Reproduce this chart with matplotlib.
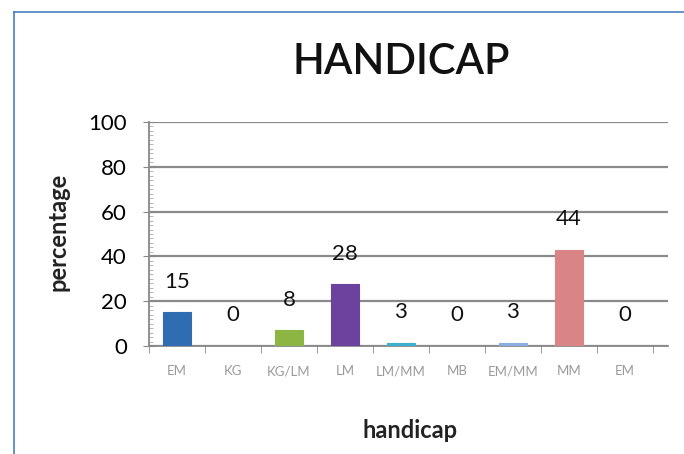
import numpy as np
import matplotlib
matplotlib.use('Agg')
import matplotlib.pyplot as plt
from matplotlib.ticker import MultipleLocator
from matplotlib.lines import Line2D

plt.rcParams['font.family'] = ['Lato', 'DejaVu Sans']

# dados do gráfico
categorias = ['EM', 'KG', 'KG/LM', 'LM', 'LM/MM', 'MB', 'EM/MM', 'MM', 'EM']
valores = [15, 0, 8, 28, 3, 0, 3, 44, 0]
alturas = [15, 0, 7, 27.5, 1.5, 0, 1.5, 43, 0]
cores = ['#2f6db3', '#2f6db3', '#8cb543', '#6b439e', '#3db0d0', '#3db0d0',
         '#8aaee2', '#d98585', '#d98585']

fig = plt.figure(figsize=(6.84, 4.54), dpi=100)

# moldura azul (esquerda e topo)
fig.add_artist(Line2D([14/684, 14/684], [0, 1 - 12/454], color='#4a7fc1', lw=1.2))
fig.add_artist(Line2D([14/684, 1], [1 - 12/454, 1 - 12/454], color='#4a7fc1', lw=1.2))

ax = fig.add_axes([149/684, 1 - 346/454, (668 - 149)/684, (346 - 122)/454])

x = np.arange(len(categorias))
ax.bar(x, alturas, width=0.5, color=cores, edgecolor=cores, linewidth=0.8, zorder=3)
for i in [1, 5, 8]:
    ax.patches[i].set_visible(False)

for xi, v, h in zip(x, valores, alturas):
    ax.annotate(str(v), (xi, h), xytext=(0, 22), textcoords='offset points',
                ha='center', va='center', fontsize=16, color='#111111')

ax.set_xlim(-0.5, 8.77)
ax.set_ylim(0, 100)
ax.yaxis.set_major_locator(MultipleLocator(20))
ax.yaxis.set_minor_locator(MultipleLocator(2))
ax.grid(axis='y', color='#8a8a8a', linewidth=1.6, zorder=0)

ax.set_xticks(x)
ax.set_xticklabels(categorias, fontsize=9.5, color='#9a9a9a')
ax.set_xticks(np.arange(-0.5, 9, 1), minor=True)
ax.tick_params(axis='x', which='major', length=0, pad=14)
ax.tick_params(axis='x', which='minor', length=5, direction='out', color='#888888')
ax.tick_params(axis='y', which='major', labelsize=16, length=8, direction='inout',
               pad=12, color='#888888')
ax.tick_params(axis='y', which='minor', length=3, direction='in', color='#aaaaaa')

for s in ['top', 'right']:
    ax.spines[s].set_visible(False)
ax.spines['left'].set_color('#888888')
ax.spines['bottom'].set_color('#888888')
ax.spines['left'].set_linewidth(1.3)
ax.spines['bottom'].set_linewidth(1.3)

fig.text(401/684, 1 - 62/454, 'HANDICAP', ha='center', va='center', fontsize=30,
         fontweight='semibold', color='#111111')
fig.text(58/684, 1 - 232/454, 'percentage', ha='center', va='center', rotation=90,
         fontsize=17, fontweight='bold', color='#222222')
fig.text(410/684, 1 - 430/454, 'handicap', ha='center', va='center',
         fontsize=17, fontweight='bold', color='#222222')

fig.savefig('out.png', dpi=100)
